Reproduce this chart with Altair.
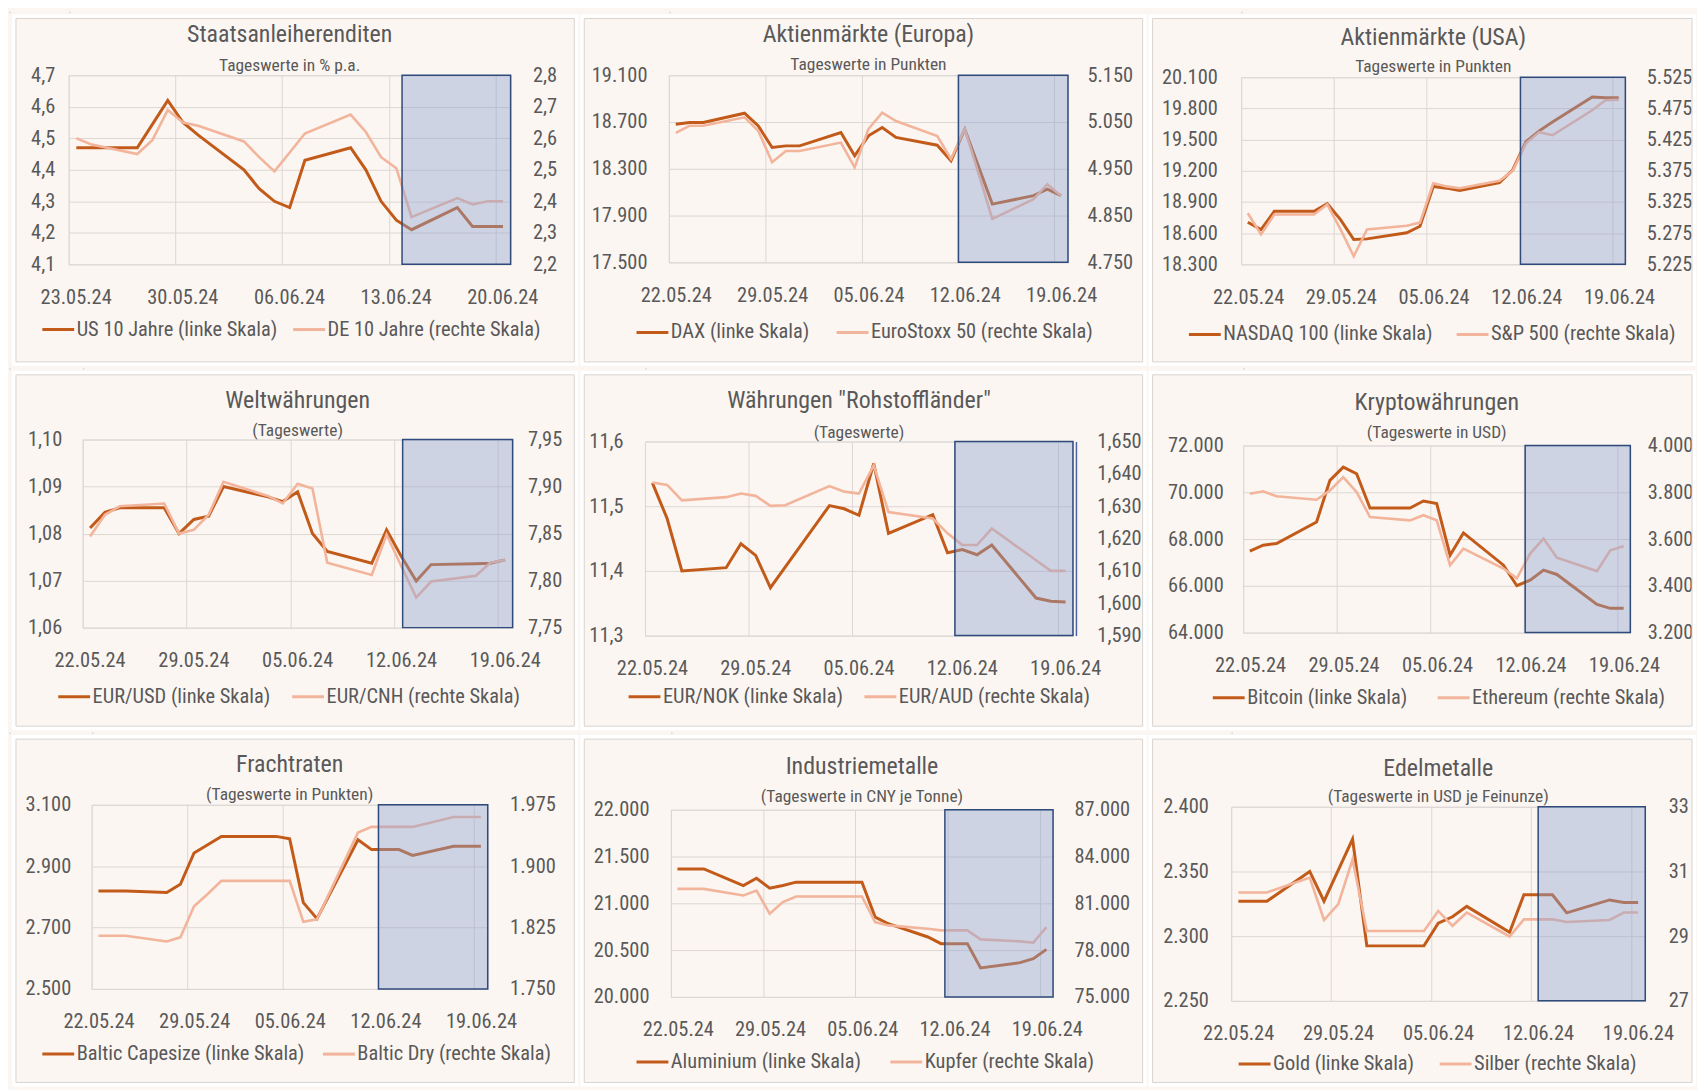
import altair as alt
import pandas as pd

FONT = "Liberation Sans Narrow, Arial Narrow, Roboto Condensed, DejaVu Sans Condensed, sans-serif"
TEXT = "#595959"
DARK = "#c25b1a"
LIGHT = "#f2b49b"
BG = "#fcf6f2"
GRID = "#dcd7d3"

# ---------------- data ----------------
DATES_1 = ["2024-05-23", "2024-05-24", "2024-05-27", "2024-05-28", "2024-05-29", "2024-05-30", "2024-05-31",
           "2024-06-03", "2024-06-04", "2024-06-05", "2024-06-06", "2024-06-07",
           "2024-06-10", "2024-06-11", "2024-06-12", "2024-06-13", "2024-06-14",
           "2024-06-17", "2024-06-18", "2024-06-19", "2024-06-20"]
DATES = ["2024-05-22", "2024-05-23", "2024-05-24", "2024-05-27", "2024-05-28", "2024-05-29", "2024-05-30",
         "2024-05-31", "2024-06-03", "2024-06-04", "2024-06-05", "2024-06-06", "2024-06-07",
         "2024-06-10", "2024-06-11", "2024-06-12", "2024-06-13", "2024-06-14",
         "2024-06-17", "2024-06-18", "2024-06-19"]
XTICKS_1 = ["2024-05-23", "2024-05-30", "2024-06-06", "2024-06-13", "2024-06-20"]
XTICKS = ["2024-05-22", "2024-05-29", "2024-06-05", "2024-06-12", "2024-06-19"]

US10 = [4.47, 4.47, 4.47, 4.545, 4.62, 4.55, 4.51, 4.40, 4.34, 4.30, 4.28, 4.43, 4.47, 4.40, 4.30, 4.24, 4.21, 4.28, 4.22, 4.22, 4.22]
DE10 = [2.60, 2.58, 2.55, 2.595, 2.69, 2.65, 2.64, 2.59, 2.54, 2.495, 2.555, 2.615, 2.675, 2.62, 2.54, 2.505, 2.35, 2.41, 2.39, 2.40, 2.40]
DAX = [18681, 18696, 18696, 18775, 18667, 18482, 18496, 18496, 18610, 18411, 18582, 18653, 18568, 18502, 18368, 18639, 18320, 17998, 18070, 18126, 18070]
SX5E = [5027, 5042, 5042, 5060, 5031, 4964, 4988, 4988, 5006, 4953, 5035, 5070, 5052, 5020, 4971, 5035, 4940, 4843, 4885, 4917, 4892]
NDX = [18705, 18634, 18810, 18810, 18883, 18730, 18539, 18545, 18603, 18666, 19049, 19033, 19010, 19087, 19208, 19479, 19584, 19670, 19909, 19902, 19902]
SPX = [5307, 5273, 5305, 5305, 5321, 5281, 5238, 5281, 5287, 5292, 5355, 5350, 5347, 5359, 5375, 5419, 5437, 5432, 5472, 5488, 5489]
EURUSD = [1.0812, 1.0845, 1.0855, 1.0855, 1.0800, 1.0830, 1.0837, 1.0900, 1.0878, 1.0868, 1.0889, 1.0800, 1.0762, 1.0737, 1.0808, 1.0751, 1.0699, 1.0734, 1.0736, 1.0737, 1.0744]
EURCNH = [7.847, 7.870, 7.879, 7.882, 7.850, 7.854, 7.870, 7.905, 7.890, 7.882, 7.903, 7.898, 7.819, 7.806, 7.849, 7.815, 7.782, 7.799, 7.805, 7.819, 7.822]
EURNOK = [11.536, 11.481, 11.400, 11.405, 11.442, 11.424, 11.374, 11.406, 11.501, 11.496, 11.486, 11.566, 11.458, 11.487, 11.428, 11.433, 11.425, 11.440, 11.358, 11.353, 11.352]
EURAUD = [1.6373, 1.6366, 1.6318, 1.6328, 1.6339, 1.6332, 1.6301, 1.6303, 1.6362, 1.6345, 1.6339, 1.6426, 1.6282, 1.6262, 1.6216, 1.6180, 1.6180, 1.6231, 1.6133, 1.6100, 1.6100]
BTC = [67481, 67737, 67808, 68731, 70508, 71076, 70792, 69329, 69329, 69627, 69514, 67311, 68263, 66884, 66004, 66245, 66671, 66486, 65207, 65037, 65037]
ETH = [3794, 3804, 3783, 3768, 3808, 3865, 3801, 3694, 3680, 3702, 3680, 3488, 3559, 3474, 3432, 3538, 3602, 3520, 3463, 3552, 3569]
CAPE = [2819, 2819, 2819, 2814, 2841, 2943, 2970, 2997, 2997, 2997, 2989, 2781, 2729, 2986, 2954, 2954, 2954, 2935, 2965, 2965, 2965]
BDI = [1815, 1815, 1815, 1808, 1813, 1851, 1866, 1882, 1882, 1882, 1882, 1832, 1835, 1941, 1948, 1948, 1948, 1948, 1960, 1960, 1960]
ALU = [21368, 21368, 21368, 21190, 21268, 21162, 21190, 21226, 21226, 21226, 21226, 20853, 20782, 20640, 20569, 20569, 20569, 20309, 20366, 20409, 20508]
CU = [81928, 81928, 81928, 81502, 81822, 80330, 81076, 81438, 81438, 81438, 81438, 79797, 79584, 79370, 79265, 79265, 79265, 78689, 78560, 78476, 79478]
GOLD = [2327, 2327, 2327, 2350, 2327, 2351, 2375, 2292.5, 2292.5, 2292.5, 2310, 2315, 2323, 2303, 2332, 2332, 2332, 2318, 2328, 2326, 2326]
SILVER = [30.35, 30.35, 30.35, 30.81, 29.50, 29.99, 31.37, 29.16, 29.16, 29.16, 29.78, 29.32, 29.73, 28.99, 29.52, 29.52, 29.52, 29.44, 29.50, 29.73, 29.73]

TITLES = ["Staatsanleiherenditen", "Aktienmärkte (Europa)", "Aktienmärkte (USA)",
          "Weltwährungen", 'Währungen "Rohstoffländer"', "Kryptowährungen",
          "Frachtraten", "Industriemetalle", "Edelmetalle"]
SUBTITLES = ["Tageswerte in % p.a.", "Tageswerte in Punkten", "Tageswerte in Punkten",
             "(Tageswerte)", "(Tageswerte)", "(Tageswerte in USD)",
             "(Tageswerte in Punkten)", "(Tageswerte in CNY je Tonne)", "(Tageswerte in USD je Feinunze)"]
NAMES = [("US 10 Jahre (linke Skala)", "DE 10 Jahre (rechte Skala)"),
         ("DAX (linke Skala)", "EuroStoxx 50 (rechte Skala)"),
         ("NASDAQ 100 (linke Skala)", "S&P 500 (rechte Skala)"),
         ("EUR/USD (linke Skala)", "EUR/CNH (rechte Skala)"),
         ("EUR/NOK (linke Skala)", "EUR/AUD (rechte Skala)"),
         ("Bitcoin (linke Skala)", "Ethereum (rechte Skala)"),
         ("Baltic Capesize (linke Skala)", "Baltic Dry (rechte Skala)"),
         ("Aluminium (linke Skala)", "Kupfer (rechte Skala)"),
         ("Gold (linke Skala)", "Silber (rechte Skala)")]
SERIES = [(US10, DE10), (DAX, SX5E), (NDX, SPX), (EURUSD, EURCNH), (EURNOK, EURAUD),
          (BTC, ETH), (CAPE, BDI), (ALU, CU), (GOLD, SILVER)]
LEFT_TICKS = [[4.1, 4.2, 4.3, 4.4, 4.5, 4.6, 4.7],
              [17500, 17900, 18300, 18700, 19100],
              [18300, 18600, 18900, 19200, 19500, 19800, 20100],
              [1.06, 1.07, 1.08, 1.09, 1.10],
              [11.3, 11.4, 11.5, 11.6],
              [64000, 66000, 68000, 70000, 72000],
              [2500, 2700, 2900, 3100],
              [20000, 20500, 21000, 21500, 22000],
              [2250, 2300, 2350, 2400]]
RIGHT_TICKS = [[2.2, 2.3, 2.4, 2.5, 2.6, 2.7, 2.8],
               [4750, 4850, 4950, 5050, 5150],
               [5225, 5275, 5325, 5375, 5425, 5475, 5525],
               [7.75, 7.80, 7.85, 7.90, 7.95],
               [1.590, 1.600, 1.610, 1.620, 1.630, 1.640, 1.650],
               [3200, 3400, 3600, 3800, 4000],
               [1750, 1825, 1900, 1975],
               [75000, 78000, 81000, 84000, 87000],
               [27, 29, 31, 33]]
LEFT_FMT = [".1f", ",.0f", ",.0f", ".2f", ".1f", ",.0f", ",.0f", ",.0f", ",.0f"]
RIGHT_FMT = [".1f", ",.0f", ",.0f", ".2f", ".3f", ",.0f", ",.0f", ",.0f", ".0f"]
HIGHLIGHT_START = ["2024-06-13T21:00", "2024-06-12T01:00", "2024-06-12T02:00",
                   "2024-06-12T14:00", "2024-06-12T00:00", "2024-06-12T03:00",
                   "2024-06-12T00:00", "2024-06-11T19:00", "2024-06-12T12:00"]

# ---------------- layout (styling only) ----------------
# box: L, W, R, T, H, B  (panel frame around the plot area)
BOX = [(53, 444, 64, 57, 190, 98), (85, 401, 75, 57, 188, 100), (89, 386, 67, 59, 188, 98),
       (67, 432, 62, 65, 189, 99), (61, 430, 70, 67, 195, 91), (91, 389, 62, 71, 188, 94),
       (76, 398, 87, 66, 185, 94), (87, 384, 90, 71, 188, 86), (79, 416, 47, 68, 195, 82)]
LEG = [(-28, 65), (-34, 70), (-54, 70), (-26, 69), (-18, 61), (-32, 65), (-51, 65), (-36, 65), (6, 63)]
LEG_GAP = [9, 20, 17, 15, 15, 24, 12, 22, 19]
LPAD = [(14, 22), (22, 19), (24, 21), (21, 15), (22, 21), (20, 17), (21, 22), (22, 21), (23, 23)]
TPOS = [(-40, -9), (-40, -10), (-39, -10), (-39, -9), (-41, -9), (-43, -13), (-40, -10), (-43, -13), (-38, -10)]
AX_FS = 20.5


def dt(s):
    d = pd.Timestamp(s)
    return alt.DateTime(year=d.year, month=d.month, date=d.day, hours=d.hour, minutes=d.minute)


def lab(fmt):
    return ("replace(replace(replace(format(datum.value, '%s'), ',', '_'), '.', ','), '_', '.')" % fmt)


ONE = alt.Data(values=[{"k": 1}])


def spacer(w, h):
    return alt.Chart(ONE).mark_rect(opacity=0).encode(
        x=alt.value(0), x2=alt.value(w), y=alt.value(0), y2=alt.value(h)).properties(width=w, height=h)


def panel(i):
    L, W, R, T, H, B = BOX[i]
    first = i == 0
    dates = DATES_1 if first else DATES
    ticks = XTICKS_1 if first else XTICKS
    x0 = "2024-05-23" if first else "2024-05-22"
    x1 = "2024-06-21" if first else "2024-06-20"
    na, nb = NAMES[i]
    va, vb = SERIES[i]
    when = pd.to_datetime(dates) + pd.Timedelta(hours=12)
    dfa = pd.DataFrame({"date": when, "value": va, "series": na})
    dfb = pd.DataFrame({"date": when, "value": vb, "series": nb})
    hl = pd.DataFrame({"start": [pd.Timestamp(HIGHLIGHT_START[i])], "end": [pd.Timestamp(x1)]})

    xscale = alt.Scale(domain=[dt(x0), dt(x1)])
    xaxis = alt.Axis(values=[dt(t) for t in ticks], format="%d.%m.%y", grid=True, gridColor=GRID,
                     domain=False, ticks=False, tickSize=0, labelPadding=23, labelOffset=7,
                     labelOverlap=False, labelFontSize=AX_FS, labelColor=TEXT, labelFont=FONT, title=None,
                     labelFlush=False)
    color = alt.Color("series:N", scale=alt.Scale(domain=[na, nb], range=[DARK, LIGHT]),
                      legend=alt.Legend(orient="none", legendX=LEG[i][0], legendY=H + LEG[i][1] - 17,
                                        direction="horizontal", title=None, symbolType="stroke",
                                        symbolSize=1024, symbolStrokeWidth=3, labelOffset=1,
                                        columnPadding=LEG_GAP[i], labelFontSize=AX_FS, labelColor=TEXT,
                                        labelFont=FONT, labelLimit=400, padding=0))
    lt, rt = LEFT_TICKS[i], RIGHT_TICKS[i]
    yl = alt.Y("value:Q", scale=alt.Scale(domain=[lt[0], lt[-1]], nice=False, zero=False),
               axis=alt.Axis(values=lt, labelExpr=lab(LEFT_FMT[i]), grid=True, gridColor=GRID,
                             domain=False, ticks=False, tickSize=0, labelPadding=LPAD[i][0],
                             labelFontSize=AX_FS, labelColor=TEXT, labelFont=FONT, title=None, orient="left",
                             labelFlush=False))
    rax = dict(values=rt, labelExpr=lab(RIGHT_FMT[i]), grid=False, ticks=False, tickSize=0,
               labelPadding=LPAD[i][1], labelFontSize=AX_FS, labelColor=TEXT, labelFont=FONT, title=None,
               orient="right", labelFlush=False)
    if i == 4:
        rax.update(domain=True, domainColor="#4a62a6", domainWidth=1.5, offset=3)
    else:
        rax.update(domain=False)
    yr = alt.Y("value:Q", scale=alt.Scale(domain=[rt[0], rt[-1]], nice=False, zero=False),
               axis=alt.Axis(**rax))

    band = alt.Chart(ONE).mark_rect(fillOpacity=0, stroke="#ffffff", strokeWidth=4).encode(
        x=alt.value(-L - 2), x2=alt.value(W + R + 2), y=alt.value(-T - 2), y2=alt.value(H + B + 2))
    frame = alt.Chart(ONE).mark_rect(fillOpacity=0, stroke="#d9d4d0", strokeWidth=1).encode(
        x=alt.value(-L), x2=alt.value(W + R), y=alt.value(-T), y2=alt.value(H + B))
    title = alt.Chart(ONE).mark_text(text=TITLES[i], font=FONT, fontSize=24, color=TEXT,
                                     align="center", baseline="middle").encode(
        x=alt.value(W / 2), y=alt.value(TPOS[i][0]))
    sub = alt.Chart(ONE).mark_text(text=SUBTITLES[i], font=FONT, fontSize=17.5, color=TEXT,
                                   align="center", baseline="middle").encode(
        x=alt.value(W / 2), y=alt.value(TPOS[i][1]))
    la = alt.Chart(dfa).mark_line(strokeWidth=3).encode(
        x=alt.X("date:T", scale=xscale, axis=xaxis), y=yl, color=color)
    lb = alt.Chart(dfb).mark_line(strokeWidth=2.6).encode(
        x=alt.X("date:T", scale=xscale, axis=xaxis), y=yr, color=color)
    rect = alt.Chart(hl).mark_rect(fill="#8ea3d0", fillOpacity=0.42, stroke="#2f4b7c", strokeWidth=1.5).encode(
        x=alt.X("start:T", scale=xscale, axis=xaxis), x2="end:T", y=alt.value(0), y2=alt.value(H))

    p = alt.layer(band, frame, title, sub, la, lb, rect).resolve_scale(y="independent").properties(
        width=W, height=H)
    return alt.vconcat(spacer(1, 1), p, spacing=0).resolve_scale(
        color="independent", x="independent", y="independent")


rows = []
for r in range(3):
    rows.append(alt.hconcat(spacer(1, 1), *[panel(3 * r + c) for c in range(3)], spacing=0).resolve_scale(
        color="independent", x="independent", y="independent"))

chart = alt.vconcat(*rows, spacing=0).resolve_scale(
    color="independent", x="independent", y="independent").properties(
    padding=0, background=BG).configure_view(stroke=None).configure(font=FONT)

chart.save("out.html", embed_options={"renderer": "svg", "actions": False})
